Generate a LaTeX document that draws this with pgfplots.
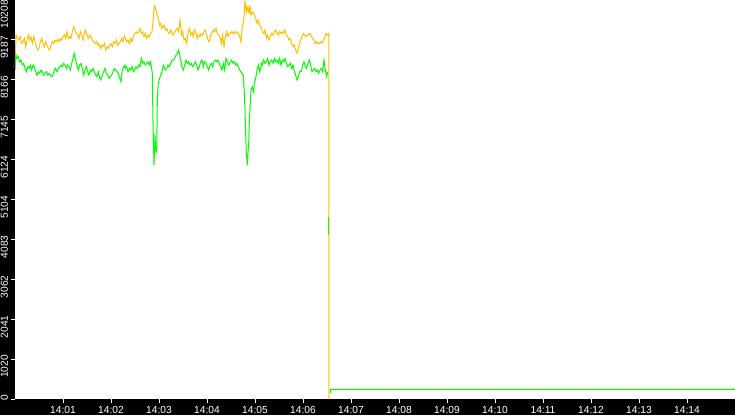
\documentclass[border=0pt]{standalone}
\usepackage{pgfplots}
\pgfplotsset{compat=1.18}
\usepackage{fontspec}
\setmainfont{Liberation Sans}
\definecolor{amber}{RGB}{255,192,0}
\definecolor{lime}{RGB}{0,255,0}
% y labels stick out 4pt above their tick
\newcommand\yl[1]{#1\hspace*{-4pt}}

\begin{document}
\begin{tikzpicture}
\useasboundingbox (-15pt,-16pt) rectangle (720pt,399pt);
\fill[black] (-15pt,-16pt) rectangle (720pt,399pt);
\begin{axis}[
  at={(0pt,0pt)}, anchor=south west,
  scale only axis, width=720pt, height=399pt,
  axis background/.style={fill=white},
  axis line style={draw=none},
  xmin=0, xmax=15, ymin=0, ymax=10208,
  xtick={1,2,3,4,5,6,7,8,9,10,11,12,13,14},
  xticklabels={14:01,14:02,14:03,14:04,14:05,14:06,14:07,14:08,14:09,14:10,14:11,14:12,14:13,14:14},
  ytick={0,1020.8,2041.6,3062.4,4083.2,5104,6124.8,7145.6,8166.4,9187.2,10208},
  yticklabels={\yl{0},\yl{1020},\yl{2041},\yl{3062},\yl{4083},\yl{5104},\yl{6124},\yl{7145},\yl{8166},\yl{9187},10208},
  tick pos=left, tick align=outside,
  major tick length=4pt,
  tick style={white, line width=1pt},
  ticklabel style={text=white, inner sep=0pt, font=\fontsize{10.2}{12}\selectfont},
  xticklabel style={anchor=north},
  yticklabel style={rotate=90, anchor=south east},
  xticklabel shift=3pt,
  yticklabel shift=2.7pt,
  /pgf/number format/assume math mode=true,
  every axis plot/.append style={line width=1pt, no marks, sharp plot},
]
% amber series
\addplot[amber] coordinates {
(0,8415)(0.021,9311)(0.056,9225)(0.083,9183)(0.111,9268)(0.139,9097)(0.167,9140)(0.194,9225)
(0.222,9012)(0.25,9183)(0.278,9311)(0.306,9183)(0.333,9268)(0.361,9097)(0.389,9268)(0.417,9140)
(0.444,9012)(0.472,8927)(0.5,8970)(0.528,9140)(0.556,9225)(0.583,9097)(0.611,9012)(0.639,9140)
(0.667,9055)(0.694,8970)(0.722,8927)(0.75,9055)(0.778,9140)(0.806,9097)(0.833,9183)(0.861,9140)
(0.889,9200)(0.917,9140)(0.944,9225)(0.972,9183)(1.0,9268)(1.028,9311)(1.056,9225)(1.083,9396)
(1.111,9225)(1.139,9268)(1.167,9225)(1.194,9396)(1.222,9524)(1.25,9439)(1.278,9353)(1.306,9311)
(1.333,9225)(1.361,9396)(1.389,9311)(1.417,9183)(1.444,9353)(1.472,9439)(1.5,9311)(1.528,9225)
(1.556,9311)(1.583,9268)(1.611,9183)(1.639,9140)(1.667,9097)(1.694,9140)(1.722,9055)(1.75,9097)
(1.778,8970)(1.806,9055)(1.833,9012)(1.861,9097)(1.889,8927)(1.917,9012)(1.944,8970)(1.972,9055)
(2.0,9097)(2.028,9012)(2.056,9140)(2.083,9097)(2.111,9183)(2.139,9055)(2.167,9097)(2.194,9140)
(2.222,9225)(2.25,9140)(2.278,9285)
(2.299,9225)(2.326,9140)(2.354,9183)(2.382,9097)(2.41,9225)(2.4375,9140)(2.465,9268)(2.493,9353)
(2.521,9396)(2.549,9353)(2.576,9396)(2.604,9481)(2.632,9353)(2.66,9396)(2.6875,9268)(2.715,9353)
(2.743,9225)(2.771,9311)(2.799,9268)(2.826,9353)(2.854,9396)(2.882,9737)(2.896,9950)(2.910,10053)
(2.931,9993)(2.951,9865)(2.972,9780)(2.993,9694)(3.014,9566)(3.035,9609)(3.056,9481)(3.076,9524)
(3.104,9566)(3.132,9439)(3.16,9481)(3.1875,9396)(3.215,9353)(3.243,9439)(3.271,9353)(3.299,9311)
(3.326,9396)(3.354,9439)(3.382,9481)(3.41,9396)(3.4375,9694)(3.451,9566)(3.472,9311)(3.493,9396)
(3.521,9183)(3.549,9225)(3.576,9097)(3.604,9353)(3.632,9481)(3.66,9311)(3.6875,9396)(3.715,9268)
(3.743,9439)(3.771,9353)(3.799,9225)(3.826,9311)(3.854,9268)(3.882,9353)(3.91,9311)(3.9375,9396)
(3.965,9439)(3.993,9311)(4.021,9183)(4.049,9140)(4.076,9311)(4.104,9353)(4.132,9439)(4.16,9396)
(4.1875,9481)(4.215,9353)(4.243,9311)(4.271,9268)(4.299,9097)(4.326,9311)(4.354,9012)(4.382,9268)
(4.41,9396)(4.4375,9268)(4.465,9353)
(4.486,9353)(4.514,9396)(4.542,9353)(4.569,9396)(4.597,9353)(4.625,9396)(4.653,9353)(4.681,9268)
(4.708,9140)(4.736,9524)(4.757,9609)(4.778,9865)(4.792,10189)(4.806,10035)(4.819,9908)(4.833,10035)
(4.847,9950)(4.861,9908)(4.875,10035)(4.889,9908)(4.903,9993)(4.917,9822)(4.931,9865)(4.958,9908)
(4.986,9822)(5.014,9737)(5.042,9609)(5.069,9694)(5.097,9566)(5.125,9524)(5.153,9396)(5.181,9353)
(5.208,9439)(5.236,9225)(5.264,9311)(5.292,9183)(5.319,9268)(5.347,9353)(5.375,9311)(5.403,9396)
(5.431,9439)(5.458,9353)(5.486,9311)(5.514,9396)(5.542,9353)(5.569,9396)(5.597,9353)(5.625,9439)
(5.653,9311)(5.681,9268)(5.708,9183)(5.736,9225)(5.764,9097)(5.792,9012)(5.819,9055)(5.847,8927)
(5.875,8842)(5.903,8970)(5.931,9097)
(5.965,9226)(6.007,9354)(6.035,9311)(6.0625,9269)(6.090,9311)(6.118,9311)(6.146,9354)(6.174,9269)
(6.201,9226)(6.229,9183)(6.257,9098)(6.285,9141)(6.312,9081)(6.340,9098)(6.368,9141)(6.396,9098)
(6.424,9183)(6.451,9226)(6.479,9354)(6.507,9311)(6.54,9354)(6.54,0)
};
% green series
\addplot[lime] coordinates {
(0,8415)(0.021,8799)(0.042,8714)(0.069,8756)(0.097,8628)(0.125,8671)(0.153,8543)(0.181,8586)
(0.208,8458)(0.236,8373)(0.264,8500)(0.292,8458)(0.319,8543)(0.347,8415)(0.375,8543)(0.403,8500)
(0.431,8373)(0.458,8287)(0.486,8373)(0.514,8330)(0.542,8415)(0.569,8373)(0.597,8287)(0.625,8330)
(0.653,8373)(0.681,8287)(0.708,8330)(0.736,8287)(0.764,8245)(0.792,8287)(0.819,8415)(0.847,8458)
(0.875,8373)(0.903,8458)(0.931,8500)(0.958,8543)(0.986,8500)(1.014,8586)(1.042,8543)(1.069,8458)
(1.097,8543)(1.125,8500)(1.153,8415)(1.181,8586)(1.208,8714)(1.236,8842)(1.264,8671)(1.292,8543)
(1.319,8415)(1.347,8543)(1.375,8586)(1.403,8458)(1.431,8287)(1.458,8415)(1.486,8500)(1.514,8373)
(1.542,8287)(1.569,8415)(1.597,8373)(1.625,8458)(1.653,8373)(1.681,8287)(1.708,8245)(1.736,8373)
(1.764,8202)(1.792,8160)(1.819,8287)(1.847,8373)(1.875,8458)(1.903,8330)(1.931,8287)(1.958,8202)
(1.986,8245)(2.014,8287)(2.042,8373)(2.069,8458)(2.097,8415)(2.125,8373)(2.153,8330)(2.181,8202)
(2.208,8117)(2.236,8415)(2.264,8500)(2.292,8543)
(2.299,8458)(2.326,8500)(2.354,8373)(2.382,8458)(2.41,8415)(2.4375,8500)(2.465,8373)(2.493,8415)
(2.521,8500)(2.549,8458)(2.576,8543)(2.604,8500)(2.632,8714)(2.66,8586)(2.6875,8628)(2.715,8543)
(2.743,8586)(2.771,8628)(2.799,8543)(2.826,8628)(2.860,8339)(2.875,7060)(2.896,5986)(2.917,6753)
(2.931,6369)(2.952,6318)(2.965,7648)(2.985,8083)(3.021,8237)(3.056,8339)(3.090,8544)
(3.104,8500)(3.132,8415)(3.16,8458)(3.1875,8543)(3.215,8500)(3.243,8586)(3.271,8671)(3.299,8671)
(3.326,8714)(3.354,8799)(3.382,8842)(3.403,8927)(3.424,8842)(3.451,8671)(3.479,8500)(3.507,8415)
(3.535,8543)(3.5625,8671)(3.590,8586)(3.618,8628)(3.646,8543)(3.674,8586)(3.701,8500)(3.729,8543)
(3.757,8628)(3.785,8543)(3.8125,8415)(3.840,8500)(3.868,8628)(3.896,8671)(3.924,8500)(3.951,8628)
(3.979,8586)(4.007,8500)(4.035,8415)(4.0625,8543)(4.090,8586)(4.118,8500)(4.146,8628)(4.174,8671)
(4.201,8628)(4.229,8671)(4.257,8586)(4.285,8500)(4.312,8415)(4.340,8586)(4.368,8415)(4.396,8714)
(4.424,8628)(4.451,8543)
(4.486,8628)(4.514,8671)(4.542,8586)(4.569,8628)(4.597,8543)(4.625,8586)(4.653,8500)(4.681,8415)
(4.723,8339)(4.756,8288)(4.777,7827)(4.792,7393)(4.806,6753)(4.819,6293)(4.833,6114)(4.840,5986)
(4.854,6293)(4.869,6548)(4.881,7060)(4.902,7572)(4.917,7904)(4.944,7981)(4.973,7853)(4.985,8083)
(5.015,8211)(5.042,8416)(5.069,8544)(5.098,8365)(5.140,8595)
(5.153,8543)(5.181,8671)(5.208,8586)(5.236,8628)(5.264,8714)(5.292,8543)(5.319,8628)(5.347,8671)
(5.375,8586)(5.403,8714)(5.431,8628)(5.458,8671)(5.486,8586)(5.514,8714)(5.542,8543)(5.569,8671)
(5.597,8628)(5.625,8714)(5.653,8586)(5.681,8500)(5.708,8543)(5.736,8586)(5.764,8458)(5.792,8543)
(5.819,8373)(5.847,8287)(5.875,8160)(5.903,8245)(5.931,8373)
(5.965,8373)(5.993,8544)(6.021,8629)(6.049,8501)(6.076,8459)(6.104,8587)(6.132,8672)(6.160,8544)
(6.1875,8373)(6.215,8416)(6.243,8459)(6.271,8373)(6.299,8416)(6.326,8331)(6.354,8416)(6.382,8459)
(6.410,8373)(6.4375,8672)(6.465,8416)(6.493,8245)(6.514,8373)
};
% green fragment left during the drop
\addplot[lime] coordinates {(6.54,4656)(6.54,4195)};
% green after the drop
\addplot[lime] coordinates {(6.569,153)(6.573,248)(15,248)};
\end{axis}
\end{tikzpicture}
\end{document}
